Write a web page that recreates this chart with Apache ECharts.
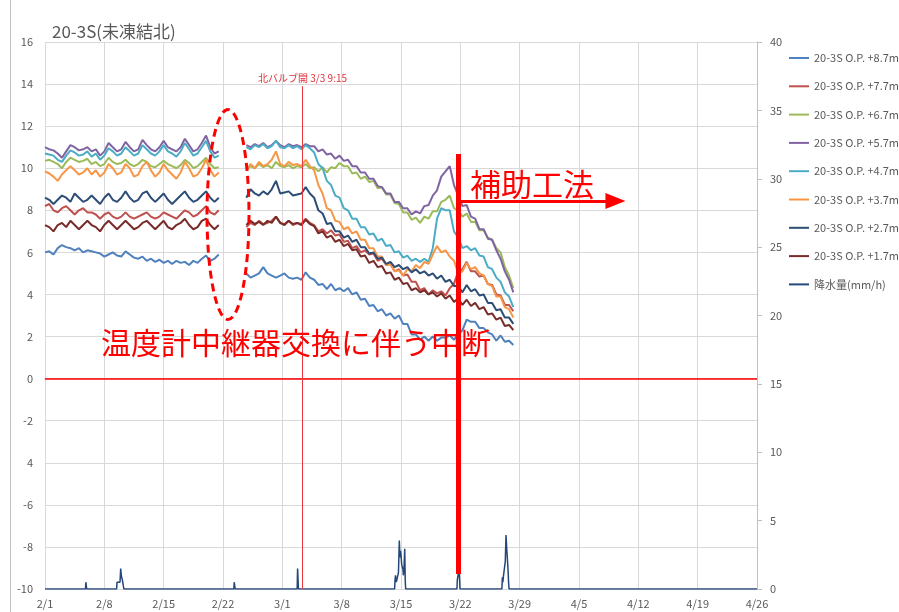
<!DOCTYPE html>
<html><head><meta charset="utf-8">
<script src="https://cdn.jsdelivr.net/npm/echarts@6.0.0/dist/echarts.min.js"></script>
<style>html,body{margin:0;padding:0;background:#fff}#c{width:899px;height:612px}</style>
</head><body><div id="c"></div>
<script>
// ---- axis labels ----
const xTickLabels = ['2/1','2/8','2/15','2/22','3/1','3/8','3/15','3/22','3/29','4/5','4/12','4/19','4/26'];
const leftTickLabels = ['-10','-8','-6','4','-2','0','2','4','6','8','10','12','14','16'];
const rightTickLabels = ['0','5','10','15','20','25','30','35','40'];

// ---- time grid (days from 2/1) ----
const seg1Start = 0, seg2Start = 23.75, step = 0.5, gapDay = 22;

// ---- series names ----
const names = ['20-3S O.P. +8.7m','20-3S O.P. +7.7m','20-3S O.P. +6.7m','20-3S O.P. +5.7m','20-3S O.P. +4.7m','20-3S O.P. +3.7m','20-3S O.P. +2.7m','20-3S O.P. +1.7m'];
const rainName = '降水量(mm/h)';

// ---- temperature values (segment 1: 2/1-2/21, segment 2: 2/24-3/28) ----
const t87a = [6.0,6.05,5.9,6.2,6.35,6.25,6.2,6.1,6.2,6.0,6.1,6.05,6.0,5.95,5.8,5.9,6.0,5.85,5.8,6.05,5.9,5.75,5.7,5.8,5.6,5.7,5.55,5.65,5.5,5.6,5.45,5.6,5.5,5.55,5.4,5.6,5.5,5.7,5.85,5.6,5.7,5.9];
const t87b = [5.0,4.8,4.9,5.0,5.3,5.0,4.9,4.8,4.9,5.0,4.8,4.75,4.8,4.7,5.05,4.8,4.7,4.45,4.5,4.25,4.5,4.2,4.3,4.15,4.3,4.0,4.1,3.75,3.8,3.45,3.5,3.2,3.3,3.0,3.1,2.85,3.0,2.6,2.6,2.1,2.1,1.85,2.0,1.8,2.0,1.8,1.95,1.95,2.05,1.85,2.1,2.3,2.8,2.7,2.7,2.4,2.4,2.2,2.1,1.8,2.05,1.75,1.8,1.6];

const t77a = [8.2,8.3,8.0,7.9,8.1,8.2,8.0,7.8,8.0,8.1,7.9,7.9,7.8,7.6,7.8,7.9,7.7,7.6,7.7,7.9,7.7,7.6,7.7,7.8,7.9,7.7,7.6,7.7,7.9,7.8,7.7,7.6,7.8,8.0,7.9,7.7,7.8,8.0,8.2,7.9,7.8,8.0];
const t77b = [7.2,7.4,7.3,7.5,7.35,7.4,7.5,7.7,7.4,7.35,7.5,7.3,7.4,7.35,7.6,7.4,7.3,7.0,7.1,6.9,7.05,6.8,6.85,6.5,6.55,6.2,6.3,6.0,6.1,5.9,5.95,5.6,5.7,5.4,5.45,5.1,5.2,4.9,4.95,4.6,4.6,4.2,4.3,4.0,4.2,4.05,4.15,3.95,4.3,4.5,5.1,5.2,5.55,5.1,5.1,4.85,4.9,4.5,4.45,4.0,3.95,3.5,3.5,3.2];

const t67a = [10.35,10.4,10.3,10.2,10.0,10.3,10.5,10.4,10.3,10.35,10.45,10.2,10.3,10.1,10.2,10.5,10.3,10.2,10.25,10.4,10.2,10.1,10.2,10.4,10.3,10.1,10.05,10.2,10.35,10.2,10.1,10.0,10.15,10.4,10.25,10.0,10.1,10.3,10.5,10.2,10.0,10.05];
const t67b = [9.9,10.1,10.0,10.2,10.05,10.15,10.0,10.3,10.1,10.05,10.15,10.0,10.1,10.05,10.2,10.0,10.05,9.85,10.05,9.8,10.05,10.0,10.25,10.1,10.1,9.75,9.8,9.5,9.6,9.35,9.4,9.05,9.1,8.75,8.75,8.35,8.3,7.9,7.9,7.55,7.65,7.4,7.7,7.6,7.95,7.95,8.4,8.5,8.7,8.1,8.0,7.7,7.85,7.45,7.45,7.05,7.05,6.7,6.6,6.2,6.0,5.3,4.9,4.3];

const t57a = [11.0,10.9,10.85,10.7,10.5,10.8,11.1,11.0,10.85,10.9,11.0,10.8,10.9,10.6,10.8,11.2,11.0,10.8,10.9,11.25,11.0,10.8,10.9,11.35,11.1,10.9,10.8,11.0,11.3,11.0,10.9,10.8,11.0,11.4,11.1,10.8,10.9,11.2,11.55,11.0,10.7,10.8];
const t57b = [11.1,11.0,11.15,11.05,11.2,11.0,11.1,11.3,11.1,11.0,11.15,11.05,11.1,11.0,11.15,11.05,11.05,10.8,10.9,10.65,10.7,10.45,10.6,10.35,10.4,10.1,10.1,9.8,9.8,9.5,9.5,9.15,9.1,8.8,8.8,8.4,8.4,8.1,8.1,7.8,7.95,7.85,8.2,8.25,8.7,8.95,9.6,9.85,10.1,9.2,8.7,8.2,8.25,7.7,7.6,7.1,7.1,6.65,6.6,6.1,5.7,5.1,4.7,4.1];

const t47a = [10.7,10.65,10.6,10.4,10.3,10.6,10.85,10.75,10.6,10.65,10.8,10.55,10.7,10.4,10.6,10.95,10.8,10.6,10.7,11.0,10.8,10.6,10.7,11.1,10.9,10.7,10.6,10.8,11.1,10.8,10.7,10.55,10.8,11.2,10.9,10.6,10.7,11.0,11.3,10.8,10.5,10.6];
const t47b = [11.0,10.9,11.1,11.0,11.15,10.95,11.05,11.3,11.0,10.95,11.1,10.95,11.05,10.9,11.1,10.95,10.75,10.2,10.0,9.4,9.2,8.7,8.6,8.1,8.0,7.6,7.6,7.2,7.2,6.85,6.9,6.55,6.65,6.3,6.35,6.0,6.05,5.75,5.85,5.6,5.7,5.55,5.7,5.55,6.2,7.6,8.1,8.0,8.0,7.0,6.7,6.2,6.3,6.1,6.2,5.85,5.8,5.3,5.2,4.8,4.6,4.1,3.9,3.4];

const t37a = [9.85,9.75,9.6,9.4,9.7,9.9,10.1,9.9,9.7,9.8,10.0,9.7,9.9,9.6,9.8,10.2,10.0,9.7,9.8,10.2,10.0,9.6,9.7,10.1,10.3,9.9,9.6,9.8,10.2,9.9,9.7,9.5,9.8,10.3,10.0,9.6,9.7,10.0,10.4,9.9,9.6,9.8];
const t37b = [9.9,10.2,10.0,10.3,10.1,10.2,10.4,10.8,10.2,10.1,10.3,10.15,10.2,10.1,10.4,10.1,9.9,9.2,8.8,8.1,8.0,7.5,7.45,7.1,7.2,6.9,7.0,6.6,6.6,6.2,6.2,5.8,5.8,5.4,5.45,5.1,5.15,4.9,5.2,5.1,5.4,5.25,5.55,5.45,5.9,6.3,6.0,6.1,5.8,5.6,5.0,5.1,5.5,5.2,5.3,5.0,4.9,4.5,4.4,3.9,3.9,3.4,3.3,2.9];

const t27a = [8.6,8.5,8.3,8.5,8.7,8.6,8.4,8.8,8.6,8.4,8.5,8.7,8.5,8.3,8.6,8.8,8.5,8.4,8.6,8.9,8.6,8.4,8.5,8.8,8.9,8.6,8.4,8.6,8.8,8.5,8.3,8.5,8.7,8.9,8.6,8.4,8.5,8.7,8.9,8.6,8.4,8.6];
const t27b = [8.6,9.0,8.8,8.7,8.9,8.75,9.0,9.4,8.8,8.85,8.9,8.7,8.75,8.8,9.1,8.8,8.6,8.0,7.85,7.35,7.4,7.0,7.0,6.7,6.8,6.5,6.6,6.25,6.25,5.95,6.0,5.7,5.75,5.45,5.55,5.3,5.4,5.2,5.3,5.05,5.2,5.0,5.1,4.9,5.0,4.75,4.9,4.6,4.7,4.4,4.4,4.1,4.45,4.15,4.25,3.95,4.0,3.6,3.6,3.25,3.3,2.9,2.9,2.6];

const t17a = [7.3,7.2,7.0,7.3,7.4,7.2,7.5,7.3,7.1,7.3,7.5,7.3,7.2,7.0,7.3,7.5,7.3,7.1,7.3,7.5,7.3,7.1,7.2,7.4,7.5,7.3,7.1,7.3,7.5,7.2,7.1,7.3,7.4,7.6,7.3,7.1,7.2,7.5,7.6,7.3,7.1,7.3];
const t17b = [7.3,7.5,7.35,7.45,7.3,7.5,7.4,7.7,7.4,7.3,7.5,7.35,7.4,7.3,7.55,7.35,7.25,6.9,7.0,6.7,6.8,6.5,6.6,6.3,6.4,6.1,6.15,5.8,5.85,5.5,5.6,5.3,5.35,5.0,5.05,4.7,4.8,4.5,4.55,4.2,4.3,4.1,4.2,4.0,4.1,3.9,4.05,3.8,3.95,3.65,3.8,3.5,3.75,3.45,3.6,3.3,3.4,3.05,3.1,2.8,2.9,2.5,2.55,2.3];

// ---- precipitation (day, mm/h) ----
const rainDays = [0,4.78,4.82,4.88,4.92, 8.45,8.5,8.85,8.93,9.0,9.08,9.15,9.24,9.3, 22.28,22.32,22.4,22.44, 29.75,29.8,29.85,29.9,
  41.25,41.29,41.35,41.45,41.55,41.7,41.8,41.88,41.95,42.0,42.08,42.16,42.24,42.28,42.36,42.44,42.5,42.55,
  48.6,48.65,48.75,48.84,48.92,48.96, 53.9,53.96,54.02,54.08,54.16,54.3,54.39,54.47,54.55,54.62,54.7,54.75,84];
const rainValues = [0,0,0.5,0.5,0, 0,0.5,0.5,1.5,1.0,0.97,0.6,0.5,0, 0,0.5,0.5,0, 0,1.5,1.5,0,
  0,0.6,1.0,0.5,0.6,1.2,3.55,2.3,2.8,2.5,1.8,1.9,1.4,1.0,1.6,2.95,0.6,0,
  0,0.7,0.8,1.4,0.6,0, 0,0.85,0.5,0.9,0.9,2.0,3.95,3.0,2.97,1.5,0.4,0,0];

const colors = ['#4F81BD','#C0504D','#9BBB59','#8064A2','#4BACC6','#F79646','#2C4D75','#772C2A'];
const rainColor = '#24477A';
const segs = [[t87a,t87b],[t77a,t77b],[t67a,t67b],[t57a,t57b],[t47a,t47b],[t37a,t37b],[t27a,t27b],[t17a,t17b]];

function build(a, b) {
  const out = [];
  a.forEach((v, i) => out.push([seg1Start + i * step, v]));
  out.push([gapDay, '-']);
  b.forEach((v, i) => out.push([seg2Start + i * step, v]));
  return out;
}

const FONT = '"Noto Sans CJK JP", "Noto Sans", sans-serif';
const chart = echarts.init(document.getElementById('c'));

const series = segs.map((s, i) => ({
  name: names[i], type: 'line', data: build(s[0], s[1]), showSymbol: false, symbol: 'none',
  lineStyle: { color: colors[i], width: 2 }, itemStyle: { color: colors[i] }, connectNulls: false, z: 2
}));
series.push({
  name: rainName, type: 'line', yAxisIndex: 1, showSymbol: false, symbol: 'none',
  data: rainDays.map((d, i) => [d, rainValues[i]]),
  lineStyle: { color: rainColor, width: 1.5 }, itemStyle: { color: rainColor }, z: 3
});
// annotation holder
series.push({
  name: 'annot', type: 'line', data: [], z: 5, silent: true,
  markLine: {
    silent: true, animation: false, symbol: ['none', 'none'],
    data: [
      { yAxis: 0, lineStyle: { color: '#FF0000', width: 1.5, type: 'solid' }, label: { show: false } },
      [ { coord: [30.385, -10], lineStyle: { color: '#E8383D', width: 1, type: 'solid' },
          label: { show: true, position: 'end', formatter: '北バルブ開 3/3 9:15', color: '#E0303A', fontSize: 10, fontFamily: FONT, distance: 3 } },
        { coord: [30.385, 13.9] } ],
      [ { coord: [48.73, -9.29], lineStyle: { color: '#FF0000', width: 5, type: 'solid' }, label: { show: false } },
        { coord: [48.73, 10.68] } ],
      [ { coord: [48.73, 8.44], symbol: 'none', lineStyle: { color: '#FF0000', width: 3, type: 'solid' }, label: { show: false } },
        { coord: [67.3, 8.44], symbol: 'triangle', symbolSize: [16, 20] } ]
    ]
  }
});

chart.setOption({
  animation: false,
  backgroundColor: '#ffffff',
  textStyle: { fontFamily: FONT },
  grid: { left: 45, right: 142, top: 42, bottom: 23, containLabel: false },
  legend: {
    data: names.concat([rainName]), orient: 'vertical', left: 789, top: 44, padding: 0,
    icon: 'rect', itemWidth: 20, itemHeight: 2, itemGap: 0.3,
    textStyle: { color: '#595959', fontSize: 11, lineHeight: 28, fontFamily: FONT }
  },
  xAxis: {
    type: 'value', min: 0, max: 84, interval: 7,
    axisLine: { show: true, lineStyle: { color: '#BFBFBF', width: 1 } },
    axisTick: { show: false },
    axisLabel: { color: '#595959', fontSize: 11, margin: 9, formatter: v => xTickLabels[Math.round(v / 7)] || '' },
    splitLine: { show: true, lineStyle: { color: '#D9D9D9', width: 1 } }
  },
  yAxis: [{
    type: 'value', min: -10, max: 16, interval: 2,
    axisLine: { show: false }, axisTick: { show: false },
    axisLabel: { color: '#595959', fontSize: 11, margin: 12, formatter: v => leftTickLabels[Math.round((v + 10) / 2)] },
    splitLine: { show: true, lineStyle: { color: '#D9D9D9', width: 1 } }
  }, {
    type: 'value', position: 'right', min: 0, max: 40, interval: 5,
    axisLine: { show: true, lineStyle: { color: '#BFBFBF', width: 1 } },
    axisTick: { show: true, inside: false, length: 5, lineStyle: { color: '#BFBFBF' } },
    axisLabel: { color: '#595959', fontSize: 11, margin: 13, formatter: v => rightTickLabels[Math.round(v / 5)] },
    splitLine: { show: false }
  }],
  series: series
});

const px = (d, v) => chart.convertToPixel({ xAxisIndex: 0, yAxisIndex: 0 }, [d, v]);
const ec = px(21.59, 7.8);
const tA = px(50.14, 9.25);
const tB = px(6.6, 1.69);
chart.setOption({
  graphic: [
    { type: 'line', shape: { x1: 10.5, y1: 0, x2: 10.5, y2: 612 }, style: { stroke: '#BFBFBF', lineWidth: 1 }, silent: true },
    { type: 'text', left: 52, top: 23, style: { text: '20-3S(未凍結北)', fill: '#595959', font: '17px ' + FONT } },
    { type: 'ellipse', shape: { cx: ec[0], cy: ec[1], rx: 21, ry: 105 }, z: 10,
      style: { fill: 'none', stroke: '#FF0000', lineWidth: 3, lineDash: [8, 5] }, silent: true },
    { type: 'text', x: tA[0], y: tA[1], z: 10, style: { text: '補助工法', fill: '#FF0000', font: '31px ' + FONT, textVerticalAlign: 'middle', verticalAlign: 'middle' } },
    { type: 'text', x: tB[0], y: tB[1], z: 10, style: { text: '温度計中継器交換に伴う中断', fill: '#FF0000', font: '30px ' + FONT, textVerticalAlign: 'middle', verticalAlign: 'middle' } }
  ]
});
</script></body></html>
